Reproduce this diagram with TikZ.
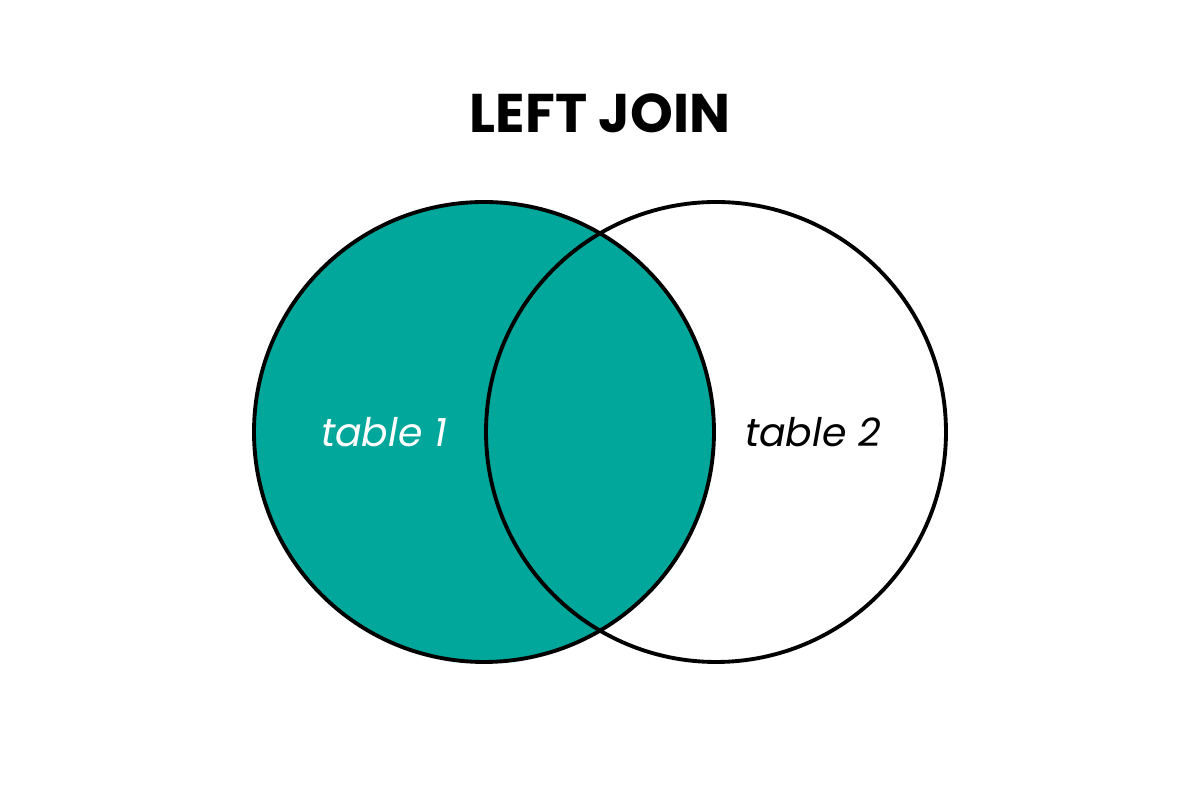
\documentclass[tikz,border=0pt]{standalone}
\usepackage{fontspec}
\setmainfont{Poppins}
\definecolor{jointeal}{RGB}{0,167,154}
\begin{document}
\begin{tikzpicture}
\useasboundingbox (0,0) rectangle (12,8);
\node[font=\bfseries\fontsize{15.5}{18}\selectfont, inner sep=0pt] (title) at (6,6.87) {LEFT JOIN};

\node[draw, circle, minimum size=4.6cm, line width=1.1pt, fill=jointeal] (t1) at (4.84,3.68) {};
\node[draw, circle, minimum size=4.6cm, line width=1.1pt] (t2) at (7.16,3.68) {};

\node[font=\itshape\fontsize{11.2}{13}\selectfont, text=white] (l1) at (3.84,3.68) {table 1};
\node[font=\itshape\fontsize{11.2}{13}\selectfont] (l2) at (8.13,3.68) {table 2};
\end{tikzpicture}
\end{document}
